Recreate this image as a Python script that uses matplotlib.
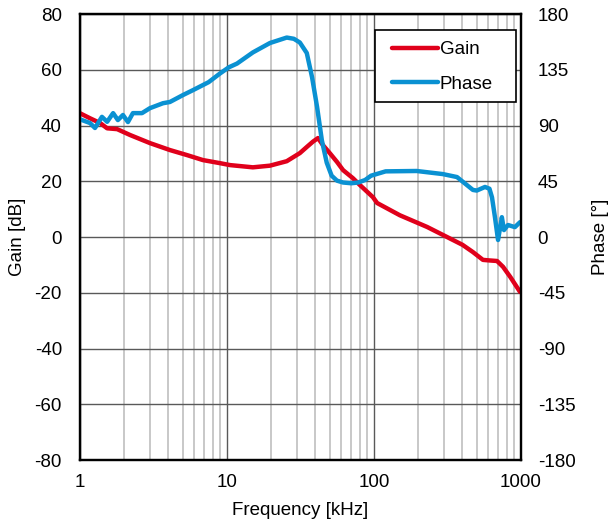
import matplotlib.pyplot as plt
from matplotlib.patches import Rectangle
from matplotlib.ticker import LogLocator, NullFormatter

plt.rcParams['font.family'] = ['Liberation Sans', 'DejaVu Sans']
plt.rcParams['axes.unicode_minus'] = False

# Gain curve
gain_freq = [1.0, 1.17, 1.37, 1.53, 1.79, 2.19, 2.99, 4.09, 5.34, 6.86, 8.96, 10.5,
             15.0, 19.6, 25.5, 31.3, 34.9, 38.4, 41.6, 44.9, 50.2, 56.1, 61.6,
             71.9, 80.4, 98.3, 105, 150, 230, 314, 400, 471, 551, 610, 687, 755,
             850, 985]
gain_db = [44.4, 42.6, 40.9, 39.0, 38.7, 36.6, 33.7, 31.2, 29.4, 27.6, 26.5, 25.8,
           25.0, 25.6, 27.2, 30.1, 32.3, 34.2, 35.5, 33.0, 30.0, 26.9, 24.0,
           21.1, 18.6, 14.3, 12.2, 7.8, 3.6, 0.0, -2.8, -5.4, -8.2, -8.4, -8.6, -10.7,
           -14.5, -19.7]

# Phase curve
phase_freq = [1.0, 1.17, 1.265, 1.41, 1.53, 1.68, 1.81, 1.96, 2.12, 2.29, 2.64,
              2.99, 3.67, 4.09, 5.02, 5.88, 7.5, 8.96, 10.3, 11.7, 15.0, 19.6,
              25.5, 28.5, 31.3, 34.9, 37.9, 41.0, 44.2, 47.7, 51.5, 56.0, 61.6,
              70.0, 78.0, 87.0, 95.5, 120, 195, 294, 367, 471, 500, 569, 610, 635,
              665, 698, 741, 766, 816, 909, 985]
phase_deg = [95, 92, 88, 97, 93, 100, 94.4, 98.5, 92.8, 100, 100,
             104, 108, 109, 114.6, 118.6, 125, 132, 137, 140, 149, 156.6,
             161, 160, 157, 148.5, 129, 105, 78, 60, 49.5, 45.5, 44.0,
             43.4, 44.0, 46, 49.5, 53.0, 53.3, 50.8, 48.4, 38, 37.5, 40.4, 39, 32,
             16, -2.4, 16, 5.6, 9.7, 8, 12]

fig = plt.figure(figsize=(6.12, 5.29), dpi=100)
ax = fig.add_axes([0.1307, 0.1304, 0.7206, 0.8431])
ax2 = ax.twinx()

red = '#E0001B'
blue = '#0A91D2'
fs = 13.5

l1, = ax.plot(gain_freq, gain_db, color=red, lw=3.2, solid_capstyle='round',
              solid_joinstyle='round')
l2, = ax2.plot(phase_freq, phase_deg, color=blue, lw=3.2, solid_capstyle='round',
               solid_joinstyle='round')

ax.set_xscale('log')
ax.set_xlim(1, 1000)
ax.set_ylim(-80, 80)
ax2.set_ylim(-180, 180)
ax.set_yticks(range(-80, 81, 20))
ax2.set_yticks(range(-180, 181, 45))
ax.set_xticks([1, 10, 100, 1000])
ax.set_xticklabels(['1', '10', '100', '1000'])
ax.xaxis.set_minor_locator(LogLocator(base=10, subs=range(2, 10)))
ax.xaxis.set_minor_formatter(NullFormatter())

ax.grid(which='major', color='#595959', lw=1.0)
ax.grid(which='minor', axis='x', color='#bfbfbf', lw=1.2)
ax.set_axisbelow(True)

ax.tick_params(axis='y', which='both', length=0, labelsize=fs, pad=13)
ax.tick_params(axis='x', which='both', length=0, labelsize=fs, pad=10)
ax2.tick_params(which='both', length=0, labelsize=fs, pad=12)
for a in (ax, ax2):
    for s in a.spines.values():
        s.set_linewidth(1.6)
        s.set_color('black')

ax.set_xlabel('Frequency [kHz]', fontsize=fs, labelpad=8)
ax.set_ylabel('Gain [dB]', fontsize=fs, labelpad=6)
ax2.set_ylabel('Phase [°]', fontsize=fs, labelpad=12)

# legend: entries without frame, plus a square black box around them
ax2.add_patch(Rectangle((0.669, 0.803), 0.32, 0.161, transform=ax2.transAxes,
                        facecolor='white', edgecolor='black', lw=1.2, zorder=5))
leg = ax2.legend([l1, l2], ['Gain', 'Phase'], loc='upper left',
                 bbox_to_anchor=(0.7075, 0.939), fontsize=fs, frameon=False,
                 handlelength=2.45, handletextpad=0.1, borderpad=0,
                 borderaxespad=0, labelspacing=0.93)
leg.set_zorder(6)

fig.savefig('out.png', dpi=100)
